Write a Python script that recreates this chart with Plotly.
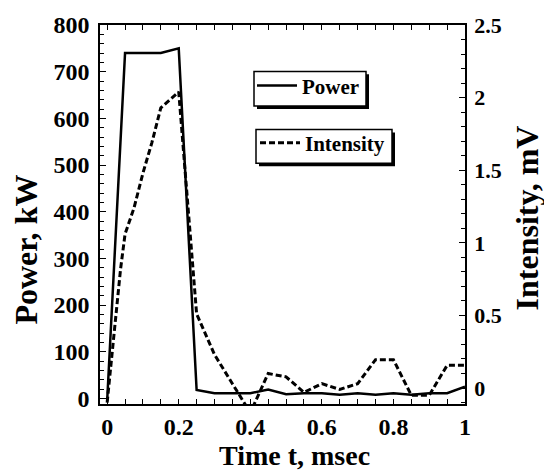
import plotly.graph_objects as go

# ---- data ----
time_p = [0, 0.05, 0.1, 0.15, 0.2, 0.25, 0.3, 0.35, 0.4, 0.45, 0.5, 0.55, 0.6,
          0.65, 0.7, 0.75, 0.8, 0.85, 0.9, 0.95, 1.0]
power = [-5, 740, 740, 740, 750, 18, 11, 11, 11, 19, 9, 11, 11,
         8, 11, 8, 11, 8, 11, 11, 25]

time_i = [0, 0.0125, 0.025, 0.0375, 0.05, 0.075, 0.1, 0.125, 0.15, 0.2, 0.25,
          0.3, 0.35, 0.4, 0.45, 0.5, 0.55, 0.6, 0.65, 0.7, 0.75, 0.8, 0.85,
          0.9, 0.95, 1.0]
intensity = [-0.1, 0.22, 0.55, 0.82, 1.06, 1.24, 1.48, 1.69, 1.93, 2.04, 0.51,
             0.23, 0.03, -0.17, 0.10, 0.077, -0.03, 0.03, -0.01, 0.03, 0.195, 0.195, -0.05,
             -0.05, 0.156, 0.156]

x_ticks = [0, 0.2, 0.4, 0.6, 0.8, 1]
power_ticks = [0, 100, 200, 300, 400, 500, 600, 700, 800]
int_ticks = [0, 0.5, 1, 1.5, 2, 2.5]

FONT = "Liberation Serif"

# plot area geometry (pixels)
W, H = 544, 472
L, R, T, B = 100, 79, 20, 68
PW, PH = W - L - R, H - T - B


def px(xp):
    return (xp - L) / PW


def py(yp):
    return (H - B - yp) / PH


fig = go.Figure()
fig.add_trace(go.Scatter(x=time_p, y=power, mode="lines", name="Power",
                         line=dict(color="black", width=2.5),
                         legend="legend"))
fig.add_trace(go.Scatter(x=time_i, y=intensity, mode="lines", name="Intensity",
                         line=dict(color="black", width=3, dash="6px,3px"),
                         yaxis="y2", legend="legend2"))

tickfont = dict(family=FONT, size=24, color="black", weight="bold")
legfont = dict(family=FONT, size=21, color="black", weight="bold")

fig.update_layout(
    width=W, height=H,
    margin=dict(l=L, r=R, t=T, b=B),
    paper_bgcolor="white", plot_bgcolor="white",
    showlegend=True,
    xaxis=dict(range=[-0.02, 1.0], tickvals=x_ticks, ticks="inside", ticklen=5,
               tickwidth=1.2, tickcolor="black",
               minor=dict(dtick=0.05, ticks="inside", ticklen=5, tickwidth=1.2, tickcolor="black"),
               showline=True, linecolor="black", linewidth=1.5, mirror="ticks",
               showgrid=False, zeroline=False, tickfont=tickfont),
    yaxis=dict(range=[-12, 800], tickvals=power_ticks, ticks="inside", ticklen=6,
               tickwidth=1.2, tickcolor="black", ticklabelstandoff=4,
               minor=dict(dtick=20, ticks="inside", ticklen=4, tickwidth=1.2, tickcolor="black"),
               showline=True, linecolor="black", linewidth=1.5,
               showgrid=False, zeroline=False, tickfont=tickfont),
    yaxis2=dict(range=[-0.11, 2.5], tickvals=int_ticks, overlaying="y", side="right",
                ticks="inside", ticklen=6, tickwidth=1.2, tickcolor="black", ticklabelstandoff=3,
                minor=dict(dtick=0.1, ticks="inside", ticklen=4, tickwidth=1.2, tickcolor="black"),
                showline=True, linecolor="black", linewidth=1.5,
                showgrid=False, zeroline=False,
                tickfont=dict(family=FONT, size=22, color="black", weight="bold")),
    legend=dict(x=px(252), y=py(61), xanchor="left", yanchor="top",
                bgcolor="rgba(0,0,0,0)", borderwidth=0, itemwidth=40,
                font=legfont),
    legend2=dict(x=px(255), y=py(119), xanchor="left", yanchor="top",
                 bgcolor="rgba(0,0,0,0)", borderwidth=0, itemwidth=40,
                 font=legfont),
)

# legend boxes with drop shadows
for (x0, y0, x1, y1) in [(254, 67, 366, 102), (256, 126, 392, 160)]:
    fig.add_shape(type="rect", xref="paper", yref="paper",
                  x0=px(x0 + 3), x1=px(x1 + 3), y0=py(y1 + 3), y1=py(y0 + 3),
                  fillcolor="black", line=dict(width=0), layer="above")
    fig.add_shape(type="rect", xref="paper", yref="paper",
                  x0=px(x0), x1=px(x1), y0=py(y1), y1=py(y0),
                  fillcolor="white", line=dict(color="black", width=1.5), layer="above")

# axis titles
fig.add_annotation(text="Time t, msec", xref="paper", yref="paper",
                   x=px(294), y=py(456), xanchor="center", yanchor="middle",
                   showarrow=False,
                   font=dict(family=FONT, size=28, color="black", weight="bold"))
fig.add_annotation(text="Power, kW", xref="paper", yref="paper",
                   x=px(26), y=py(247.5), xanchor="center", yanchor="middle",
                   textangle=-90, showarrow=False,
                   font=dict(family=FONT, size=32, color="black", weight="bold"))
fig.add_annotation(text="Intensity, mV", xref="paper", yref="paper",
                   x=px(527), y=py(216), xanchor="center", yanchor="middle",
                   textangle=-90, showarrow=False,
                   font=dict(family=FONT, size=32, color="black", weight="bold"))

fig.write_html("out.html")
